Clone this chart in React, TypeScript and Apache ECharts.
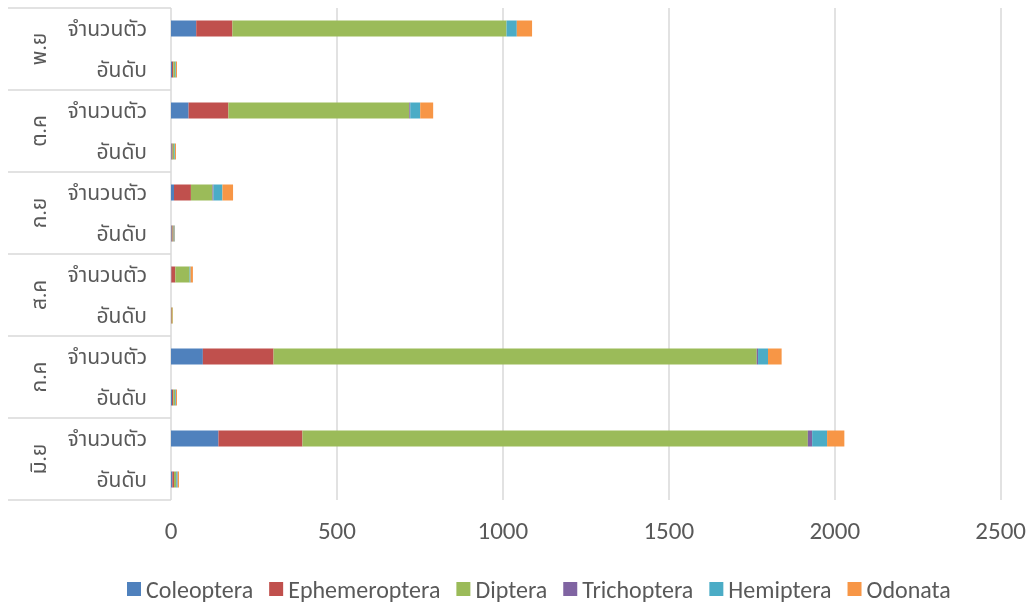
import React, { useEffect, useRef } from "react";
import * as echarts from "echarts";

const months = ["มิ.ย", "ก.ค", "ส.ค", "ก.ย", "ต.ค", "พ.ย"];
const subCats = ["อันดับ", "จำนวนตัว"];
const categories: string[] = [];
months.forEach(() => subCats.forEach((s) => categories.push(s)));
const monthBoundaries: number[] = [];
for (let i = 0; i <= months.length; i++) monthBoundaries.push(i);

// order per category (bottom to top): มิ.ย อันดับ, มิ.ย จำนวนตัว, ก.ค อันดับ, ...
const coleoptera = [4, 143, 3, 96, 0, 1, 2, 9, 2, 53, 3, 76];
const ephemeroptera = [5, 253, 4, 213, 2, 12, 3, 51, 3, 120, 4, 109];
const diptera = [6, 1523, 5, 1456, 3, 43, 3, 65, 5, 545, 6, 826];
const trichoptera = [1, 13, 1, 4, 0, 0, 1, 3, 0, 3, 0, 0];
const hemiptera = [4, 45, 2, 30, 0, 3, 2, 27, 2, 30, 2, 31];
const odonata = [4, 52, 3, 41, 1, 7, 1, 32, 3, 39, 3, 46];

const seriesNames = ["Coleoptera", "Ephemeroptera", "Diptera", "Trichoptera", "Hemiptera", "Odonata"];
const seriesData = [coleoptera, ephemeroptera, diptera, trichoptera, hemiptera, odonata];
const colors = ["#4F81BD", "#C0504D", "#9BBB59", "#8064A2", "#4BACC6", "#F79646"];

const FONT = "Calibri, Carlito, 'Noto Sans', 'Noto Sans Thai', 'DejaVu Sans', sans-serif";

export default function App() {
  const ref = useRef<HTMLDivElement>(null);
  useEffect(() => {
    if (!ref.current) return;
    const chart = echarts.init(ref.current, undefined, { renderer: "svg" });
    chart.setOption({
      animation: false,
      color: colors,
      textStyle: { fontFamily: FONT },
      grid: [
        { left: 171, right: 28, top: 8, bottom: 106, containLabel: false },
        { left: 8, width: 163, top: 8, bottom: 106, containLabel: false },
      ],
      legend: {
        bottom: 0,
        left: 122,
        itemWidth: 14,
        itemHeight: 14,
        itemGap: 16,
        icon: "rect",
        textStyle: { fontSize: 24, color: "#595959", fontFamily: FONT },
        data: seriesNames,
      },
      xAxis: [
        {
          type: "value",
          gridIndex: 0,
          min: 0,
          max: 2500,
          interval: 500,
          axisLine: { show: false },
          axisTick: { show: false },
          splitLine: { show: true, lineStyle: { color: "#D9D9D9", width: 1.5 } },
          axisLabel: { fontSize: 25, color: "#595959", margin: 18, formatter: (v: number) => String(v) },
        },
        {
          type: "value",
          gridIndex: 1,
          show: false,
          min: 0,
          max: 1,
        },
      ],
      yAxis: [
        {
          type: "category",
          gridIndex: 0,
          data: categories,
          position: "left",
          axisLine: { show: false },
          axisTick: { show: false },
          splitLine: { show: false },
          axisLabel: { fontSize: 21, color: "#595959", margin: 24 },
        },
        {
          type: "category",
          gridIndex: 1,
          data: months,
          position: "left",
          axisLine: { show: false },
          axisTick: { show: false },
          axisLabel: { fontSize: 21, color: "#595959", rotate: 90, inside: true, margin: 20 },
          splitLine: { show: false },
        },
        {
          type: "value",
          gridIndex: 1,
          show: false,
          min: 0,
          max: months.length,
        },
      ],
      series: [
        ...seriesNames.map((name, i) => ({
          name,
          type: "bar",
          stack: "total",
          xAxisIndex: 0,
          yAxisIndex: 0,
          barWidth: 16,
          data: seriesData[i],
        })),
        {
          type: "custom",
          name: "sep",
          xAxisIndex: 1,
          yAxisIndex: 2,
          silent: true,
          data: monthBoundaries,
          renderItem: (params: any, api: any) => {
            const b = api.value(0);
            const p1 = api.coord([0, b]);
            const p2 = api.coord([1, b]);
            return {
              type: "line",
              shape: { x1: p1[0], y1: p1[1], x2: p2[0], y2: p2[1] },
              style: { stroke: "#D9D9D9", lineWidth: 1.5 },
            };
          },
        },
      ],
    });
    return () => chart.dispose();
  }, []);
  return <div ref={ref} style={{ position: "fixed", left: 0, top: 0, width: 1029, height: 606 }} />;
}
